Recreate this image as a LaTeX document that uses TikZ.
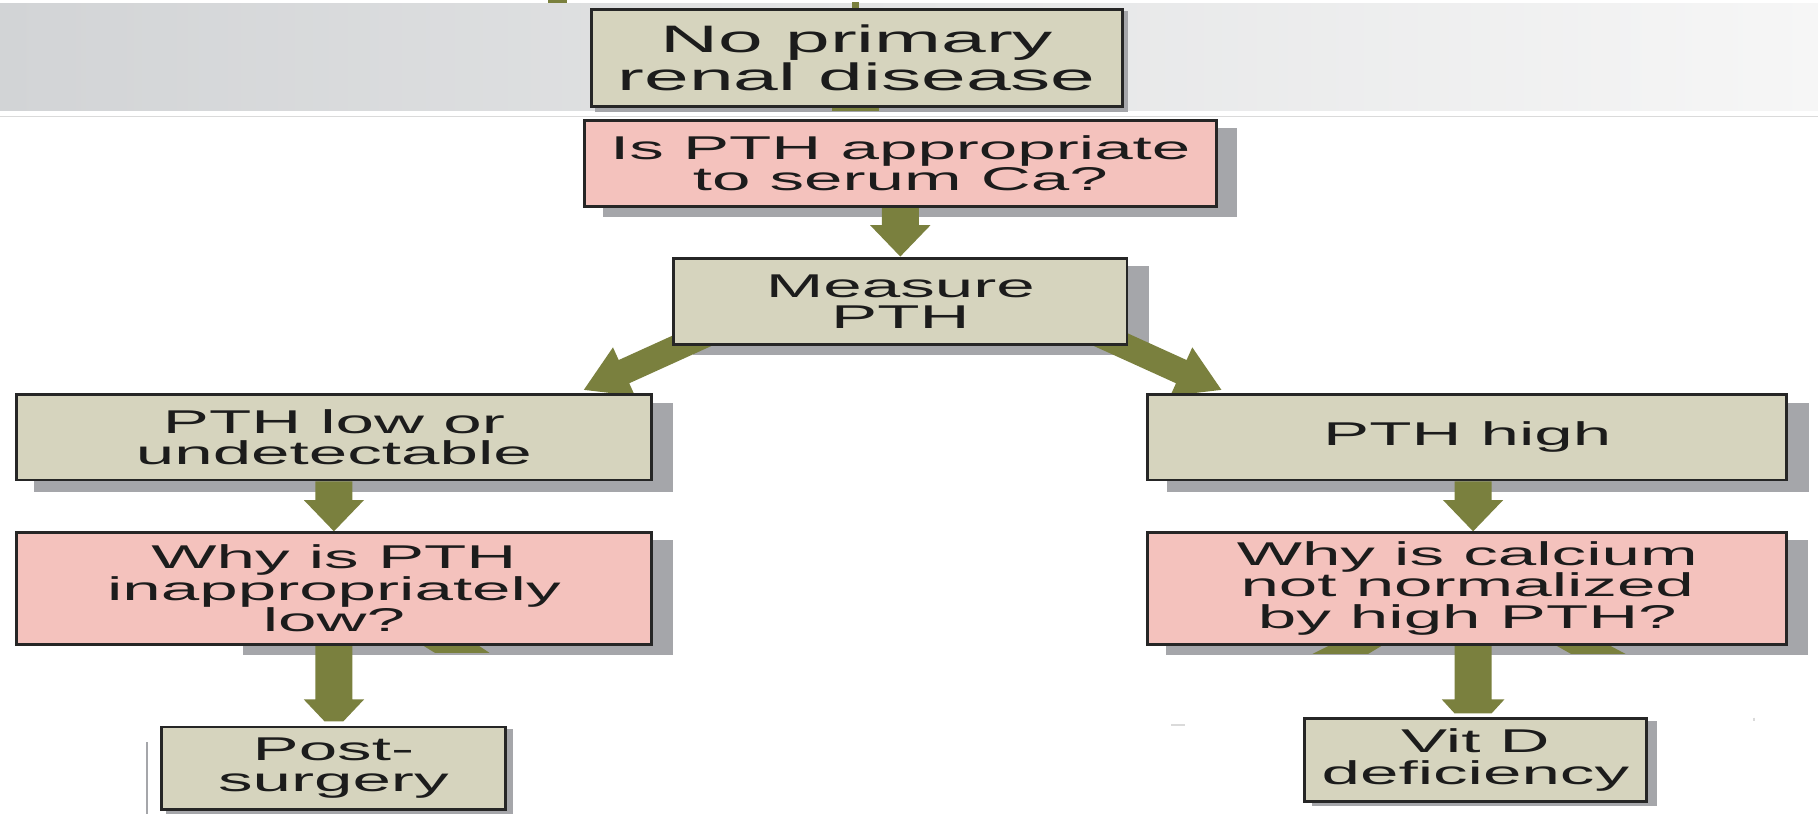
\documentclass[tikz,border=0pt]{standalone}
\usepackage{fontspec}
\newfontfamily\dfont[FakeStretch=2.1]{Liberation Sans}
\usetikzlibrary{calc}
\definecolor{beigec}{RGB}{214,212,190}
\definecolor{pinkc}{RGB}{244,194,189}
\definecolor{shadowgray}{RGB}{165,166,170}
\definecolor{olivec}{RGB}{122,128,62}
\definecolor{edgec}{RGB}{38,38,38}
\definecolor{inkc}{RGB}{28,28,28}
\definecolor{bandL}{RGB}{210,212,214}
\definecolor{bandM}{RGB}{236,237,237}
\definecolor{bandR}{RGB}{246,246,246}
\definecolor{rulegray}{RGB}{218,218,218}
\pgfdeclarelayer{bg}\pgfdeclarelayer{shad}\pgfdeclarelayer{arr}
\pgfsetlayers{bg,shad,arr,main}
\tikzset{
  box/.style={draw=edgec, line width=1.25pt, inner sep=0pt, align=center, text=inkc,
    font=\dfont\fontsize{14.2}{13.5}\selectfont},
  beigebox/.style={box, fill=beigec},
  pinkbox/.style={box, fill=pinkc},
  arrowfill/.style={fill=olivec},
  shadowfill/.style={fill=shadowgray},
}
% #1 start, #2 angle, #3 length, #4 shaft half, #5 head half, #6 head length, #7 tip half
\newcommand\blockarrow[7]{%
  \begin{scope}[shift={(#1)},rotate=#2]
    \fill[arrowfill] (0,-#4) -- ({#3-#6},-#4) -- ({#3-#6},-#5) -- (#3,-#7) -- (#3,#7)
      -- ({#3-#6},#5) -- ({#3-#6},#4) -- (0,#4) -- cycle;
  \end{scope}}
\newcommand\boxshadow[3]{\fill[shadowfill] ($(#1.south west)+(#2,#3)$) rectangle ($(#1.north east)+(#2,#3)$);}
\begin{document}
\begin{tikzpicture}[x=0.5pt,y=-0.5pt]
\useasboundingbox (0,0) rectangle (1568,702);
% boxes
\node[beigebox, minimum width=229pt, minimum height=42pt,
  font=\dfont\fontsize{16.5}{14.4}\selectfont] (b1) at (739,50) {No primary\\renal disease};
\node[pinkbox, minimum width=272.5pt, minimum height=37pt] (b2) at (776.5,141) {Is PTH appropriate\\to serum Ca?};
\node[beigebox, minimum width=195.5pt, minimum height=37pt] (b3) at (776.5,260) {Measure\\PTH};
\node[beigebox, minimum width=274pt, minimum height=37pt] (b4) at (288,377) {PTH low or\\undetectable};
\node[beigebox, minimum width=275.5pt, minimum height=37pt] (b5) at (1265.5,377) {PTH high};
\node[pinkbox, minimum width=274pt, minimum height=48.5pt] (b6) at (288,507.5) {Why is PTH\\inappropriately\\low?};
\node[pinkbox, minimum width=275.5pt, minimum height=48.5pt] (b7) at (1265.5,507.5) {Why is calcium\\not normalized\\by high PTH?};
\node[beigebox, minimum width=148.5pt, minimum height=35.5pt] (b8) at (287.5,662.5) {Post-\\surgery};
\node[beigebox, minimum width=147.5pt, minimum height=35.5pt] (b9) at (1272.5,655.5) {Vit D\\deficiency};
% background band
\begin{pgfonlayer}{bg}
  \fill[white] (0,0) rectangle (1568,702);
  \shade[left color=bandL, middle color=bandM, right color=bandR] (0,3) rectangle (1568,95.5);
  \draw[rulegray, line width=0.6pt] (0,100.5) -- (1568,100.5);
  \draw[shadowgray, line width=1pt] (127,640) -- (127,702);
  \draw[rulegray, line width=1pt] (1010,625) -- (1022,625);
  \draw[rulegray, line width=1pt] (1513,619) -- (1513,622);
\end{pgfonlayer}
% shadows
\begin{pgfonlayer}{shad}
  \boxshadow{b1}{4}{3}
  \boxshadow{b2}{17}{8}
  \boxshadow{b3}{18}{8}
  \boxshadow{b4}{17}{9}
  \boxshadow{b5}{18}{9}
  \fill[shadowfill] ($(b6.south west)+(197,8)$) rectangle ($(b6.north east)+(17,8)$);
  \boxshadow{b7}{17}{8}
  \boxshadow{b8}{5}{3}
  \boxshadow{b9}{8}{3}
\end{pgfonlayer}
% connectors
\begin{pgfonlayer}{arr}
  \coordinate (dl) at ($(b3.south west)+(34,-12)$);
  \coordinate (dr) at ($(b3.south east)+(-30,-12)$);
  \blockarrow{b2.south}{-90}{42}{16}{26}{27}{0}
  \blockarrow{dl}{204.4}{121}{11}{23}{38}{0}
  \blockarrow{dr}{-24.4}{121}{11}{23}{38}{0}
  \blockarrow{b4.south}{-90}{43}{16}{26}{27}{0}
  \blockarrow{$(b5.south)+(5,0)$}{-90}{43}{16}{26}{27}{0}
  \blockarrow{b6.south}{-90}{65}{16}{26}{19}{8}
  \blockarrow{$(b7.south)+(5,0)$}{-90}{58}{16}{27}{12}{16}
  % fragments of arrows hidden behind boxes
  \fill[arrowfill] (718,90) rectangle (758,95.5);
  \fill[arrowfill] (735,2) rectangle (741,8);
  \fill[arrowfill] (473,0) rectangle (489,3);
  \fill[arrowfill] (362,555) -- (410,555) -- (422,563) -- (375,563) -- cycle;
  \fill[arrowfill] (1150,555) -- (1195,555) -- (1180,564) -- (1132,564) -- cycle;
  \fill[arrowfill] (1339,555) -- (1385,555) -- (1402,564) -- (1355,564) -- cycle;
\end{pgfonlayer}
\end{tikzpicture}
\end{document}
